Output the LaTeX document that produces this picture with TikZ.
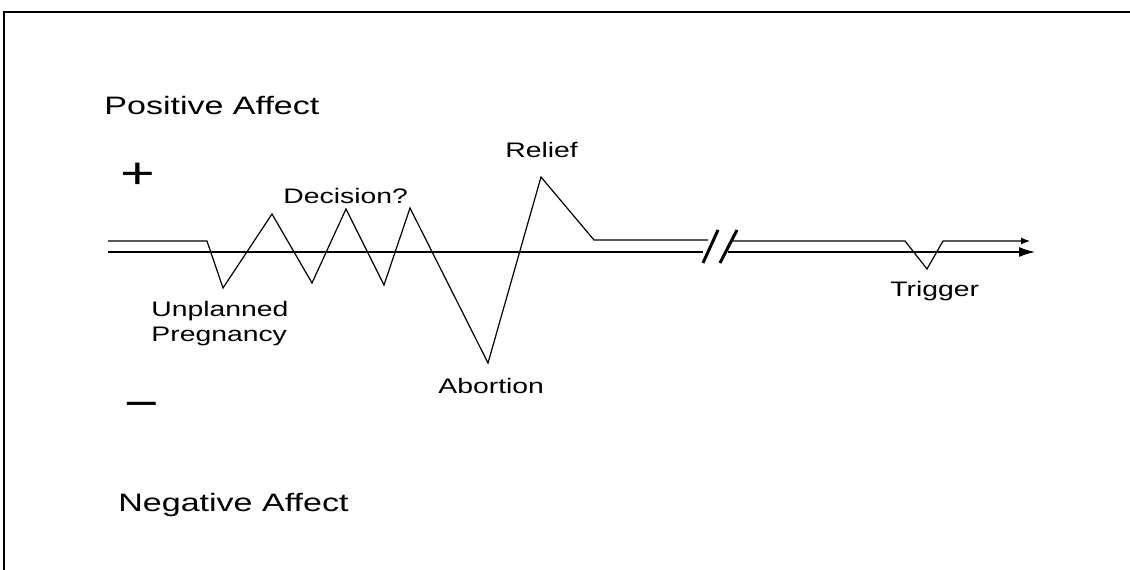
\documentclass[tikz,border=0pt]{standalone}
\usepackage{fontspec}
\newfontfamily\affectfont[FakeStretch=1.35]{Liberation Sans}
\usepackage{tikz}
\usetikzlibrary{arrows.meta}

\begin{document}
\begin{tikzpicture}[x=0.5pt,y=0.5pt,font=\affectfont\fontsize{10.5}{12.5}\selectfont,
		lbl/.style={inner sep=0pt,anchor=base west},
		big/.style={lbl,font=\affectfont\fontsize{12.6}{14}\selectfont},
		sign/.style={inner sep=0pt,font=\affectfont\fontsize{22}{24}\selectfont},
		trace/.style={line width=0.6pt,line join=miter}]
	\useasboundingbox (0,0) rectangle (1130,569);
	
	% frame (top and left only)
	\draw[line width=1.4pt](3.5,557)--(1131,557);
	\draw[line width=0.8pt](4,557.5)--(4,-1);
	
	% axis with break
	\coordinate (ax0) at (108,317);
	\coordinate (ax1) at (703,317);
	\coordinate (ax2) at (728,317);
	\coordinate (ax3) at (1035,317);
	\draw[trace](ax0)--(ax1);
	\draw[trace,-{Latex[length=8pt,width=5pt]}](ax2)--(ax3);
	
	% affect curve
	\coordinate (c0) at (108,328);
	\coordinate (c1) at (207,328);
	\coordinate (d1) at (223,281);
	\coordinate (u1) at (272,355);
	\coordinate (d2) at (312,286);
	\coordinate (u2) at (346,360);
	\coordinate (d3) at (384,284);
	\coordinate (u3) at (410,361);
	\coordinate (ab) at (488,206);
	\coordinate (re) at (541,392);
	\coordinate (c2) at (594,329);
	\coordinate (c3) at (708,329);
	\draw[trace](c0)--(c1)--(d1)--(u1)--(d2)--(u2)--(d3)--(u3)--(ab)--(re)--(c2)--(c3);
	
	\coordinate (c4) at (733,328);
	\coordinate (c5) at (905,328);
	\coordinate (tr) at (927,300);
	\coordinate (c6) at (943,328);
	\coordinate (c7) at (1030,328);
	\draw[trace,-{Latex[length=4.5pt,width=3.5pt]}](c4)--(c5)--(tr)--(c6)--(c7);
	
	% break marks
	\coordinate (b1) at (703,306);
	\coordinate (b2) at (718,339);
	\coordinate (b3) at (720,306);
	\coordinate (b4) at (737,339);
	\draw[line width=1.5pt](b1)--(b2);
	\draw[line width=1.5pt](b3)--(b4);
	
	% labels
	\node[big] (pos) at (104,454) {Positive Affect};
	\node[big] (neg) at (118,58) {Negative Affect};
	\node[sign] (plus) at (138,393) {+};
	\node[sign] (minus) at (142,159) {−};
	\node[lbl,align=left,anchor=north west] (unpl) at (151,268) {Unplanned\\Pregnancy};
	\node[lbl] (dec) at (283,366) {Decision?};
	\node[lbl] (rel) at (505,412) {Relief};
	\node[lbl] (abo) at (438,176) {Abortion};
	\node[lbl] (trig) at (890,273) {Trigger};
\end{tikzpicture}
\end{document}
